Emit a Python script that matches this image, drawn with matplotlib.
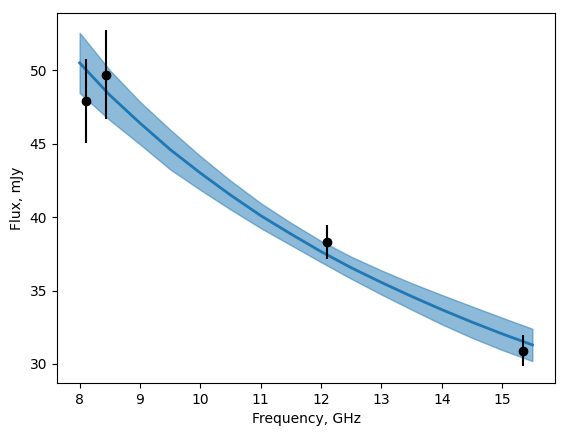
import numpy as np
import matplotlib
matplotlib.use('Agg')
import matplotlib.pyplot as plt

# model curve and band
freq_model = [8.0, 8.5, 9.0, 9.5, 10.0, 10.5, 11.0, 11.5, 12.0, 12.5, 13.0, 13.5, 14.0, 14.5, 15.0, 15.5]
flux_model = [50.5, 48.3, 46.4, 44.6, 43.0, 41.5, 40.1, 38.85, 37.65, 36.55, 35.55, 34.6, 33.7, 32.85, 32.05, 31.3]
flux_upper = [52.55, 50.0, 47.85, 45.95, 44.15, 42.48, 40.95, 39.61, 38.37, 37.3, 36.37, 35.5, 34.7, 33.92, 33.15, 32.4]
flux_lower = [48.45, 46.6, 44.95, 43.25, 41.85, 40.52, 39.25, 38.09, 36.93, 35.8, 34.73, 33.7, 32.7, 31.78, 30.95, 30.2]

# measurements
freq_obs = [8.1, 8.43, 12.1, 15.35]
flux_obs = [47.9, 49.7, 38.3, 30.9]
flux_err = [2.85, 3.05, 1.15, 1.05]

fig = plt.figure(figsize=(5.66, 4.36), dpi=100)
ax = fig.add_axes([57/566, 1 - 383/436, 498/566, 370/436])

ax.fill_between(freq_model, flux_lower, flux_upper, color='C0', alpha=0.5)
ax.plot(freq_model, flux_model, color='C0', lw=2)
ax.errorbar(freq_obs, flux_obs, yerr=flux_err, fmt='ko')

ax.set_xlabel("Frequency, GHz")
ax.set_ylabel("Flux, mJy")

fig.savefig('out.png', dpi=100)
